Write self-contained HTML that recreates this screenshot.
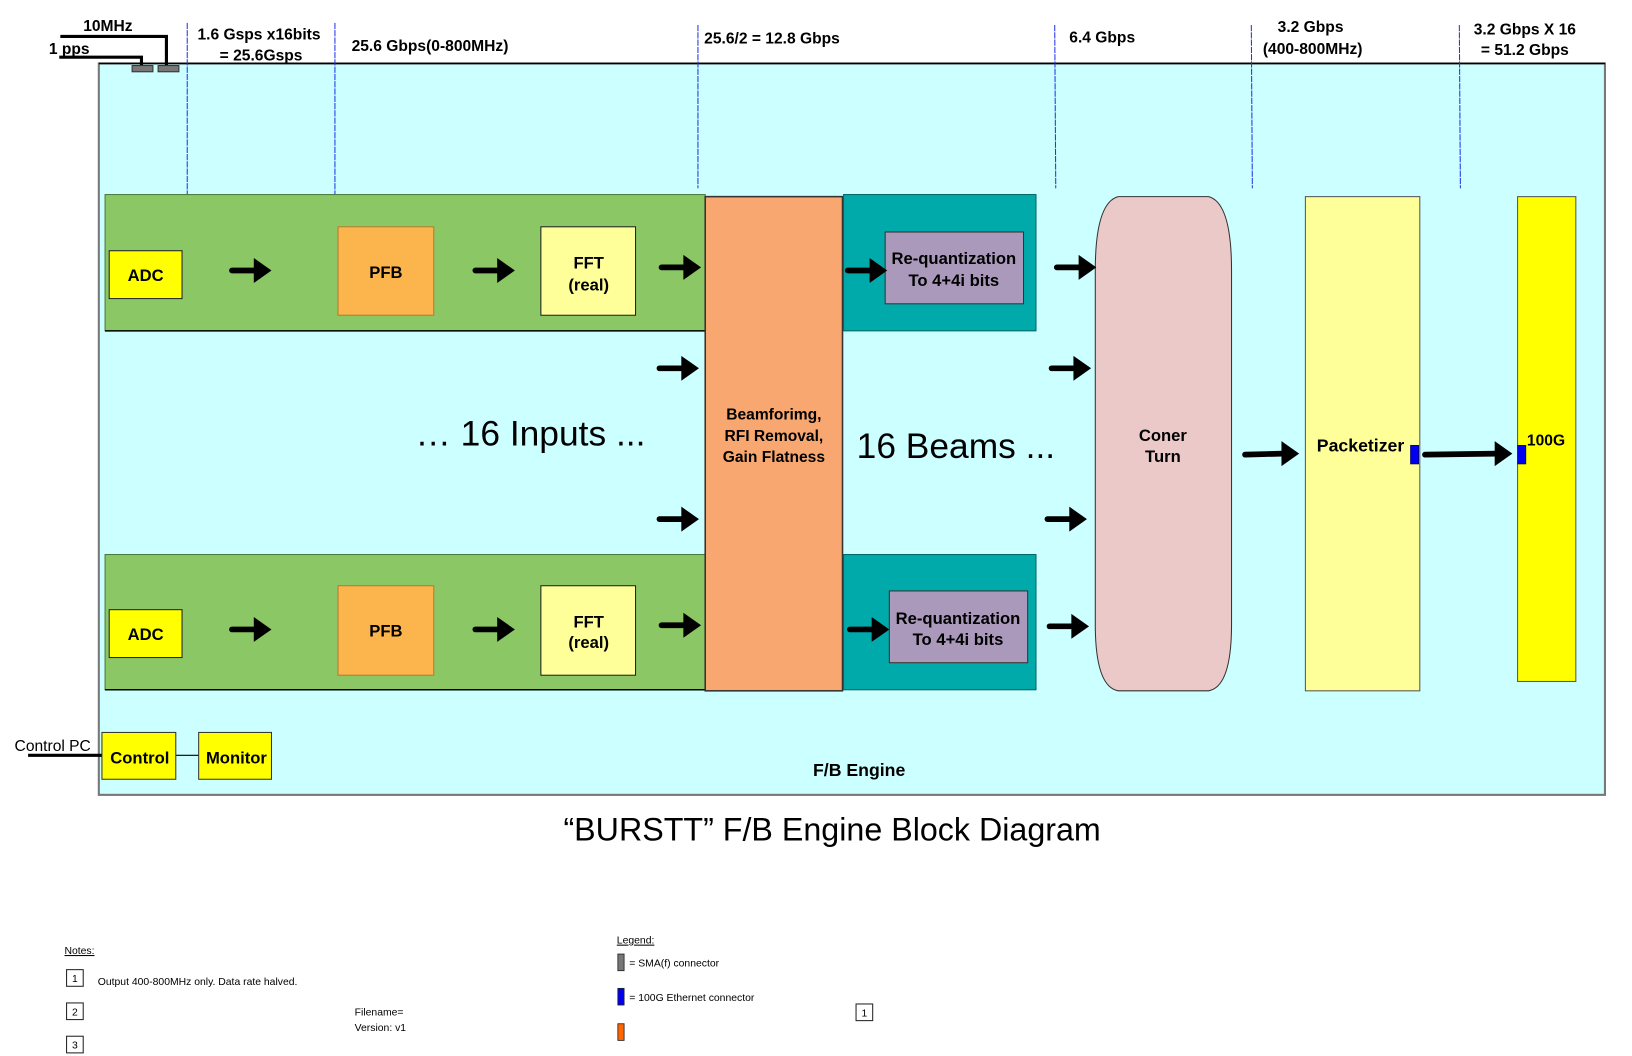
<!DOCTYPE html>
<html><head><meta charset="utf-8"><style>
html,body{margin:0;padding:0;background:#fff;}
svg{display:block;}
text{font-family:"Liberation Sans",sans-serif;}
.b{font-weight:bold;font-size:16px;}
.s{font-size:10px;}
</style></head><body>
<svg width="1632" height="1056" viewBox="0 0 1569 1015" preserveAspectRatio="none" xmlns="http://www.w3.org/2000/svg">
<defs>
<g id="ar"><line x1="-4" y1="0" x2="-36" y2="0" stroke="#000" stroke-width="5.5" stroke-linecap="round"/><polygon points="2,0 -15,-12 -15,12" fill="#000"/></g>
</defs>
<rect x="95" y="61" width="1448" height="703" fill="#ccffff" stroke="#777" stroke-width="2"/>
<line x1="95" y1="61" x2="1543" y2="61" stroke="#000" stroke-width="1.5"/>
<g stroke="#2233ee" stroke-width="1" stroke-dasharray="6,1">
<line x1="180" y1="22" x2="180" y2="187"/><line x1="322" y1="22" x2="322" y2="187"/>
<line x1="671" y1="24" x2="671" y2="181"/><line x1="1014" y1="24" x2="1015" y2="181"/>
<line x1="1203" y1="24" x2="1204" y2="181"/><line x1="1403" y1="24" x2="1404" y2="181"/>
</g>
<polyline points="58,35 160,35 160,65" fill="none" stroke="#000" stroke-width="3"/>
<polyline points="57,55 136,55 136,65" fill="none" stroke="#000" stroke-width="3"/>
<rect x="127" y="63" width="20" height="6" fill="#777" stroke="#333" stroke-width="1"/>
<rect x="152" y="63" width="20" height="6" fill="#777" stroke="#333" stroke-width="1"/>
<text x="80" y="30" class="b" style="font-size:15px">10MHz</text>
<text x="47" y="52" class="b" style="font-size:15px">1 pps</text>
<text x="249" y="38" class="b" text-anchor="middle" style="font-size:15px">1.6 Gsps x16bits</text>
<text x="251" y="58" class="b" text-anchor="middle" style="font-size:15px">= 25.6Gsps</text>
<text x="338" y="49" class="b" style="font-size:15px">25.6 Gbps(0-800MHz)</text>
<text x="677" y="42" class="b" style="font-size:15px">25.6/2 = 12.8 Gbps</text>
<text x="1028" y="41" class="b" style="font-size:15px">6.4 Gbps</text>
<text x="1260" y="31" class="b" text-anchor="middle" style="font-size:15px">3.2 Gbps</text>
<text x="1262" y="52" class="b" text-anchor="middle" style="font-size:15px">(400-800MHz)</text>
<text x="1466" y="33" class="b" text-anchor="middle" style="font-size:15px">3.2 Gbps X 16</text>
<text x="1466" y="53" class="b" text-anchor="middle" style="font-size:15px">= 51.2 Gbps</text>
<rect x="101" y="187" width="577" height="131" fill="#8bc765" stroke="#4a7a3a" stroke-width="1"/>
<line x1="101" y1="318" x2="678" y2="318" stroke="#000" stroke-width="1.5"/>
<rect x="101" y="533" width="577" height="130" fill="#8bc765" stroke="#4a7a3a" stroke-width="1"/>
<line x1="101" y1="663" x2="678" y2="663" stroke="#000" stroke-width="1.5"/>
<g stroke="#222" stroke-width="1">
<rect x="105" y="241" width="70" height="46" fill="#ffff00"/>
<rect x="105" y="586" width="70" height="46" fill="#ffff00"/>
<rect x="325" y="218" width="92" height="85" fill="#fbb54c" stroke="#b87a30"/>
<rect x="325" y="563" width="92" height="86" fill="#fbb54c" stroke="#b87a30"/>
<rect x="520" y="218" width="91" height="85" fill="#ffff99"/>
<rect x="520" y="563" width="91" height="86" fill="#ffff99"/>
</g>
<text x="140" y="270" class="b" text-anchor="middle">ADC</text>
<text x="140" y="615" class="b" text-anchor="middle">ADC</text>
<text x="371" y="267" class="b" text-anchor="middle">PFB</text>
<text x="371" y="612" class="b" text-anchor="middle">PFB</text>
<text x="566" y="258" class="b" text-anchor="middle">FFT</text>
<text x="566" y="279" class="b" text-anchor="middle">(real)</text>
<text x="566" y="603" class="b" text-anchor="middle">FFT</text>
<text x="566" y="623" class="b" text-anchor="middle">(real)</text>
<rect x="678" y="189" width="132" height="475" fill="#f7a76f" stroke="#333" stroke-width="1.5"/>
<text x="744" y="403" class="b" text-anchor="middle" style="font-size:15px">Beamforimg,</text>
<text x="744" y="424" class="b" text-anchor="middle" style="font-size:15px">RFI Removal,</text>
<text x="744" y="444" class="b" text-anchor="middle" style="font-size:15px">Gain Flatness</text>
<rect x="811" y="187" width="185" height="131" fill="#00aaaa" stroke="#066" stroke-width="1"/>
<rect x="811" y="533" width="185" height="130" fill="#00aaaa" stroke="#066" stroke-width="1"/>
<rect x="851" y="223" width="133" height="69" fill="#aa99bb" stroke="#333" stroke-width="1"/>
<rect x="855" y="568" width="133" height="69" fill="#aa99bb" stroke="#333" stroke-width="1"/>
<text x="917" y="254" class="b" text-anchor="middle">Re-quantization</text>
<text x="917" y="275" class="b" text-anchor="middle">To 4+4i bits</text>
<text x="921" y="600" class="b" text-anchor="middle">Re-quantization</text>
<text x="921" y="620" class="b" text-anchor="middle">To 4+4i bits</text>
<path d="M1075,189 L1162,189 Q1184,195 1184,260 L1184,600 Q1184,660 1162,664 L1075,664 Q1053,660 1053,600 L1053,260 Q1053,195 1075,189 Z" fill="#ecc9c9" stroke="#333" stroke-width="1"/>
<text x="1118" y="424" class="b" text-anchor="middle">Coner</text>
<text x="1118" y="444" class="b" text-anchor="middle">Turn</text>
<rect x="1255" y="189" width="110" height="475" fill="#ffff99" stroke="#555" stroke-width="1"/>
<text x="1308" y="434" class="b" text-anchor="middle" style="font-size:17px">Packetizer</text>
<rect x="1459" y="189" width="56" height="466" fill="#ffff00" stroke="#555" stroke-width="1"/>
<text x="1468" y="428" class="b" style="font-size:15px">100G</text>
<rect x="1356" y="428" width="8" height="18" fill="#0000ee" stroke="#003" stroke-width="0.5"/>
<rect x="1459" y="428" width="8" height="18" fill="#0000ee" stroke="#003" stroke-width="0.5"/>
<text x="510" y="428" text-anchor="middle" style="font-size:34px">… 16 Inputs ...</text>
<text x="919" y="440" text-anchor="middle" style="font-size:34px">16 Beams ...</text>
<use href="#ar" x="259" y="260"/><use href="#ar" x="493" y="260"/><use href="#ar" x="672" y="257"/>
<use href="#ar" x="851" y="260"/><use href="#ar" x="1052" y="257"/>
<use href="#ar" x="670" y="354"/><use href="#ar" x="670" y="499"/>
<use href="#ar" x="1047" y="354"/><use href="#ar" x="1043" y="499"/>
<use href="#ar" x="259" y="605"/><use href="#ar" x="493" y="605"/><use href="#ar" x="672" y="601"/>
<use href="#ar" x="853" y="605"/><use href="#ar" x="1045" y="602"/>
<line x1="1197" y1="437" x2="1233" y2="436" stroke="#000" stroke-width="5.5" stroke-linecap="round"/>
<polygon points="1249,436 1232,424 1232,448" fill="#000"/>
<line x1="1370" y1="437" x2="1440" y2="436" stroke="#000" stroke-width="5.5" stroke-linecap="round"/>
<polygon points="1454,436 1437,424 1437,448" fill="#000"/>
<line x1="27" y1="726" x2="98" y2="726" stroke="#000" stroke-width="3"/>
<line x1="169" y1="726" x2="191" y2="726" stroke="#000" stroke-width="1"/>
<rect x="98" y="704" width="71" height="45" fill="#ffff00" stroke="#333" stroke-width="1"/>
<rect x="191" y="704" width="70" height="45" fill="#ffff00" stroke="#333" stroke-width="1"/>
<text x="106" y="734" class="b">Control</text>
<text x="198" y="734" class="b">Monitor</text>
<text x="14" y="722" style="font-size:15px">Control PC</text>
<text x="826" y="746" class="b" text-anchor="middle" style="font-size:17px">F/B Engine</text>
<text x="800" y="808" text-anchor="middle" style="font-size:31px">“BURSTT” F/B Engine Block Diagram</text>
<text x="62" y="917" class="s" text-decoration="underline">Notes:</text>
<g fill="#fff" stroke="#222" stroke-width="1">
<rect x="64" y="932" width="16" height="16"/><rect x="64" y="964" width="16" height="16"/><rect x="64" y="996" width="16" height="16"/>
<rect x="823" y="965" width="16" height="16"/>
</g>
<text x="72" y="944" class="s" text-anchor="middle">1</text>
<text x="72" y="976" class="s" text-anchor="middle">2</text>
<text x="72" y="1008" class="s" text-anchor="middle">3</text>
<text x="831" y="977" class="s" text-anchor="middle">1</text>
<text x="94" y="947" class="s">Output 400-800MHz only. Data rate halved.</text>
<text x="341" y="976" class="s">Filename=</text>
<text x="341" y="991" class="s">Version:  v1</text>
<text x="593" y="907" class="s" text-decoration="underline">Legend:</text>
<rect x="594" y="917" width="6" height="16" fill="#777" stroke="#222" stroke-width="0.8"/>
<text x="605" y="929" class="s">= SMA(f) connector</text>
<rect x="594" y="950" width="6" height="16" fill="#0000ee" stroke="#222" stroke-width="0.8"/>
<text x="605" y="962" class="s">= 100G Ethernet connector</text>
<rect x="594" y="984" width="6" height="16" fill="#ff6600" stroke="#222" stroke-width="0.8"/>
</svg>
</body></html>
